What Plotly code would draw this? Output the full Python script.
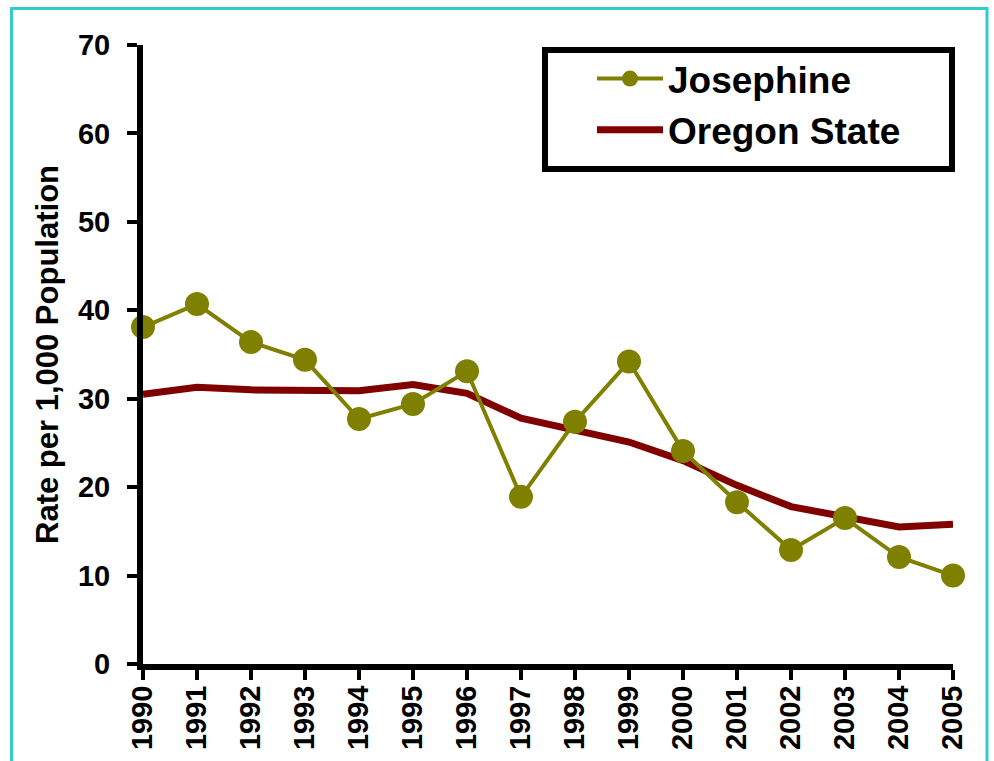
import plotly.graph_objects as go

years = list(range(1990, 2006))
josephine = [38.1, 40.7, 36.4, 34.4, 27.7, 29.4, 33.1, 18.9, 27.4, 34.2, 24.1, 18.3, 12.9, 16.5, 12.1, 10.0]
oregon = [30.5, 31.3, 31.0, 30.9, 30.9, 31.6, 30.6, 27.8, 26.5, 25.1, 23.0, 20.2, 17.8, 16.6, 15.5, 15.8]
y_ticks = [0, 10, 20, 30, 40, 50, 60, 70]

FONT = "Liberation Sans, Arial, sans-serif"

fig = go.Figure()
fig.add_trace(go.Scatter(
    x=years, y=oregon, mode="lines", name="Oregon State",
    line=dict(color="#800000", width=7), cliponaxis=False, legendgroup="b", legendrank=2,
))
fig.add_trace(go.Scatter(
    x=years, y=josephine, mode="lines+markers", name="Josephine",
    line=dict(color="#808000", width=4),
    marker=dict(color="#808000", size=24), cliponaxis=False, legendgroup="a", legendrank=1,
))

fig.update_layout(
    width=994, height=761,
    margin=dict(l=143, r=41, t=45, b=97),
    paper_bgcolor="white", plot_bgcolor="white",
    font=dict(family=FONT, color="black"),
    showlegend=True,
    legend=dict(
        x=(592 - 143) / 810, y=(664 - 48) / 619, xanchor="left", yanchor="top",
        bgcolor="rgba(0,0,0,0)", borderwidth=0,
        font=dict(size=37, family=FONT, color="black", weight="bold"),
        itemwidth=66, tracegroupgap=0,
    ),
    xaxis=dict(
        range=[1990, 2005], tickmode="array", tickvals=years,
        ticktext=[str(y) for y in years], tickangle=-90,
        showgrid=False, zeroline=False, automargin=False,
        showline=True, linecolor="black", linewidth=6,
        ticks="outside", ticklen=10, tickwidth=4, tickcolor="black",
        tickfont=dict(size=29, family=FONT, weight="bold"),
        ticklabelstandoff=-6,
    ),
    yaxis=dict(
        range=[0, 70], tickmode="array", tickvals=y_ticks,
        showgrid=False, zeroline=False, automargin=False,
        showline=True, linecolor="black", linewidth=6,
        ticks="outside", ticklen=10, tickwidth=4, tickcolor="black",
        tickfont=dict(size=29, family=FONT, weight="bold"),
        ticklabelstandoff=11,
        title=dict(text="Rate per 1,000 Population", standoff=12,
                   font=dict(size=31, family=FONT, weight="bold")),
    ),
    shapes=[
        dict(type="rect", xref="paper", yref="paper",
             x0=(11.5 - 143) / 810, x1=(987 - 143) / 810,
             y0=(664 - 820) / 619, y1=(664 - 8.5) / 619,
             line=dict(color="#33CCCC", width=3), fillcolor="rgba(0,0,0,0)", layer="below"),
        dict(type="rect", xref="paper", yref="paper",
             x0=(545 - 143) / 810, x1=(952 - 143) / 810,
             y0=(664 - 169) / 619, y1=(664 - 50) / 619,
             line=dict(color="black", width=6), fillcolor="white", layer="below"),
    ],
)

fig.write_html("out.html", config={"displayModeBar": False},
               post_script="document.body.style.margin='0';")
